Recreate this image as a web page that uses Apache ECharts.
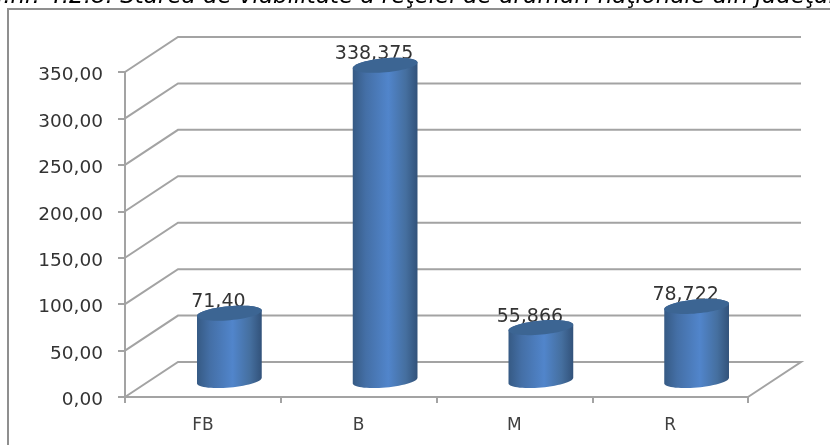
<!DOCTYPE html>
<html><head><meta charset="utf-8">
<style>html,body{margin:0;padding:0;background:#fff;overflow:hidden}#c{width:830px;height:445px}</style>
<script src="https://cdn.jsdelivr.net/npm/echarts@6/dist/echarts.min.js"></script>
</head><body><div id="c"></div>
<script>
var categories = ['FB', 'B', 'M', 'R'];
var values = [71.40, 338.375, 55.866, 78.722];
var valueLabels = ['71,40', '338,375', '55,866', '78,722'];
var yTicks = [0, 50, 100, 150, 200, 250, 300, 350];
var titleText = 'Fig.nr. 4.2.8. Starea de viabilitate a reţelei de drumuri naţionale din judeţul';

var DEPTH_X = 53, DEPTH_Y = -35;
var RX = 32.5, RY = 7, TILT = -0.09;
var FONT = '"DejaVu Sans", Verdana, sans-serif';
var GRID_COL = '#a3a3a3';

function ellipseArc(cx, cy, from, to, n) {
  var pts = [];
  for (var i = 0; i <= n; i++) {
    var t = from + (to - from) * i / n;
    var ex = RX * Math.cos(t), ey = RY * Math.sin(t);
    pts.push([cx + ex * Math.cos(TILT) - ey * Math.sin(TILT),
              cy + ex * Math.sin(TILT) + ey * Math.cos(TILT)]);
  }
  return pts;
}

var chart = echarts.init(document.getElementById('c'), null, {renderer: 'canvas'});

function renderWall(params, api) {
  var v = api.value(0);
  var cs = params.coordSys;
  var y = api.coord([0, v])[1];
  var pts = [[cs.x, y], [cs.x + DEPTH_X, y + DEPTH_Y], [cs.x + cs.width + DEPTH_X, y + DEPTH_Y]];
  if (v === 0) pts.push([cs.x + cs.width, y]);
  return {type: 'polyline', shape: {points: pts},
          style: {stroke: GRID_COL, lineWidth: 2, fill: null}};
}

function renderCylinder(params, api) {
  var idx = api.value(0), v = api.value(1);
  var top = api.coord([idx, v]), base = api.coord([idx, 0]);
  var cx = top[0] + DEPTH_X / 2;
  var topY = top[1] + DEPTH_Y / 2, baseY = base[1] + DEPTH_Y / 2 + 1;
  var body = ellipseArc(cx, baseY, Math.PI, 0, 30).concat(ellipseArc(cx, topY, 0, -Math.PI, 30));
  var side = new echarts.graphic.LinearGradient(0, 0, 1, 0, [
    {offset: 0, color: '#365a84'}, {offset: 0.2, color: '#446fa6'},
    {offset: 0.55, color: '#5185cb'}, {offset: 0.82, color: '#456f9f'},
    {offset: 1, color: '#32527a'}]);
  return {type: 'group', children: [
    {type: 'polygon', shape: {points: body}, style: {fill: side}},
    {type: 'polygon', shape: {points: ellipseArc(cx, topY, 0, 2 * Math.PI, 60)},
     style: {fill: '#3c6593'}},
    {type: 'text', x: cx - 11, y: topY - 11, z2: -1,
     style: {text: valueLabels[params.dataIndex], font: '19px ' + FONT, fill: '#333',
             align: 'center', verticalAlign: 'middle'}}
  ]};
}

chart.setOption({
  animation: false,
  backgroundColor: '#fff',
  title: {text: titleText, left: -36, top: -19,
          textStyle: {fontFamily: FONT, fontSize: 23, fontStyle: 'italic', fontWeight: 'normal', color: '#000'}},
  graphic: [{type: 'rect', shape: {x: 8, y: 9, width: 900, height: 500}, silent: true, z: -1,
             style: {fill: null, stroke: '#8f8f8f', lineWidth: 2}}],
  grid: {left: 125, right: 82, top: 72, bottom: 48},
  xAxis: {type: 'category', data: categories, boundaryGap: true,
          axisLine: {lineStyle: {color: GRID_COL, width: 2}},
          axisTick: {show: true, alignWithLabel: false, length: 6, lineStyle: {color: GRID_COL, width: 2}},
          axisLabel: {fontFamily: FONT, fontSize: 17, color: '#404040', margin: 20},
          splitLine: {show: false}},
  yAxis: {type: 'value', min: 0, max: 350, interval: 50,
          axisLine: {show: true, lineStyle: {color: GRID_COL, width: 2}},
          axisTick: {show: true, length: 7, lineStyle: {color: GRID_COL, width: 2}},
          axisLabel: {margin: 22,
                      formatter: function (v) { return '{a|' + v.toFixed(2).replace('.', ',') + '}'; },
                      rich: {a: {fontFamily: FONT, fontSize: 18.5, color: '#333', padding: [7, 0, 0, 0]}}},
          splitLine: {show: false}},
  series: [
    {type: 'custom', renderItem: renderWall, clip: false, silent: true, z: 1,
     data: yTicks.map(function (v) { return [v]; }), encode: {y: 0}},
    {type: 'custom', renderItem: renderCylinder, clip: false, silent: true, z: 3,
     data: values.map(function (v, i) { return [i, v]; }), encode: {x: 0, y: 1}}
  ]
});
</script></body></html>
